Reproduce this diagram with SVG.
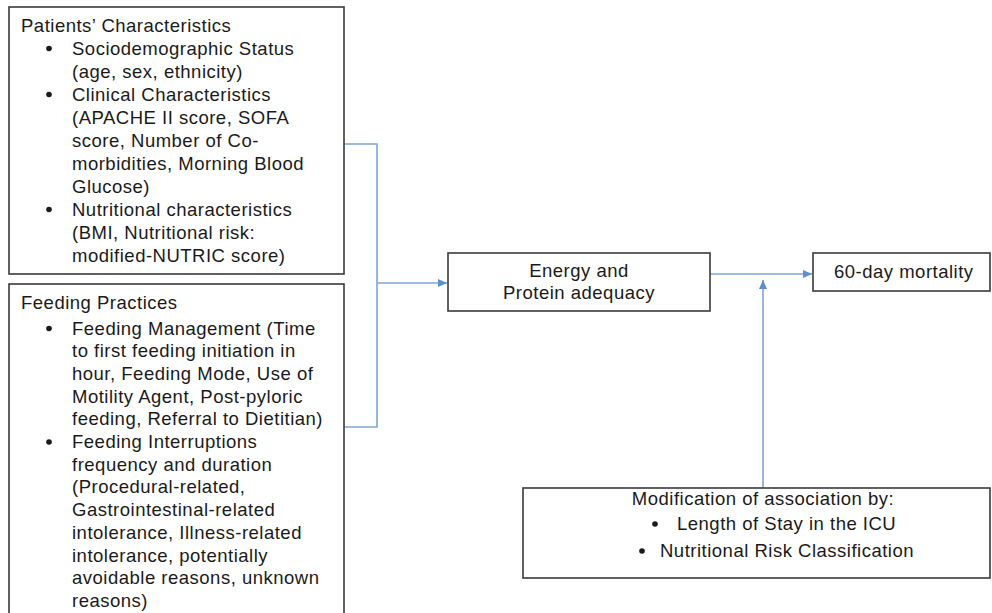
<svg xmlns="http://www.w3.org/2000/svg" width="992" height="613" viewBox="0 0 992 613">
<defs>
<style>
.box{fill:#fff;stroke:#3a3a3a;stroke-width:1.6}
.t{font-family:"Liberation Sans",Arial,sans-serif;font-size:18.5px;letter-spacing:0.5px;fill:#1a1a1a}
.m{text-anchor:middle}
.b{fill:#1a1a1a}
.c{fill:none;stroke:#7fa6d6;stroke-width:1.6}
</style>
<marker id="ah" markerUnits="userSpaceOnUse" markerWidth="10" markerHeight="8" refX="9" refY="4" orient="auto">
<path d="M0,0 L9,4 L0,8 Z" fill="#5b8fcf"/>
</marker>
</defs>
<rect width="992" height="613" fill="#fff"/>

<g id="connectors">
<path class="c" d="M344,144 H377 V427 H344"/>
<path class="c" d="M377,283 H447" marker-end="url(#ah)"/>
<path class="c" d="M710,274 H812" marker-end="url(#ah)"/>
<path class="c" d="M763,488 V280" marker-end="url(#ah)"/>
</g>

<g id="patients">
<rect class="box" x="9" y="7" width="335" height="267"/>
<text class="t" x="21" y="31.5">Patients’ Characteristics</text>
<circle class="b" cx="49" cy="48.5" r="2.8"/>
<text class="t" x="72" y="54.5">Sociodemographic Status</text>
<text class="t" x="72" y="77.5">(age, sex, ethnicity)</text>
<circle class="b" cx="49" cy="94.5" r="2.8"/>
<text class="t" x="72" y="100.5">Clinical Characteristics</text>
<text class="t" x="72" y="123.5">(APACHE II score, SOFA</text>
<text class="t" x="72" y="146.5">score, Number of Co-</text>
<text class="t" x="72" y="169.5">morbidities, Morning Blood</text>
<text class="t" x="72" y="192.5">Glucose)</text>
<circle class="b" cx="49" cy="209.5" r="2.8"/>
<text class="t" x="72" y="215.5">Nutritional characteristics</text>
<text class="t" x="72" y="238.5">(BMI, Nutritional risk:</text>
<text class="t" x="72" y="261.5">modified-NUTRIC score)</text>
</g>

<g id="feeding">
<rect class="box" x="9" y="284" width="335" height="340"/>
<text class="t" x="21" y="309">Feeding Practices</text>
<circle class="b" cx="49" cy="328.5" r="2.8"/>
<text class="t" x="72" y="334.5">Feeding Management (Time</text>
<text class="t" x="72" y="357.2">to first feeding initiation in</text>
<text class="t" x="72" y="379.9">hour, Feeding Mode, Use of</text>
<text class="t" x="72" y="402.6">Motility Agent, Post-pyloric</text>
<text class="t" x="72" y="425.3">feeding, Referral to Dietitian)</text>
<circle class="b" cx="49" cy="442" r="2.8"/>
<text class="t" x="72" y="448">Feeding Interruptions</text>
<text class="t" x="72" y="470.7">frequency and duration</text>
<text class="t" x="72" y="493.4">(Procedural-related,</text>
<text class="t" x="72" y="516.1">Gastrointestinal-related</text>
<text class="t" x="72" y="538.8">intolerance, Illness-related</text>
<text class="t" x="72" y="561.5">intolerance, potentially</text>
<text class="t" x="72" y="584.2">avoidable reasons, unknown</text>
<text class="t" x="72" y="607">reasons)</text>
</g>

<g id="adequacy">
<rect class="box" x="448" y="253" width="262" height="58"/>
<text class="t m" x="579" y="277">Energy and</text>
<text class="t m" x="579" y="299">Protein adequacy</text>
</g>

<g id="mortality">
<rect class="box" x="813" y="253" width="177" height="38"/>
<text class="t" x="834" y="278">60-day mortality</text>
</g>

<g id="modification">
<rect class="box" x="523" y="488" width="467" height="90"/>
<text class="t m" x="763" y="505">Modification of association by:</text>
<circle class="b" cx="655" cy="524" r="2.8"/>
<text class="t" x="677" y="530">Length of Stay in the ICU</text>
<circle class="b" cx="642" cy="551" r="2.8"/>
<text class="t" x="660" y="557">Nutritional Risk Classification</text>
</g>
</svg>
